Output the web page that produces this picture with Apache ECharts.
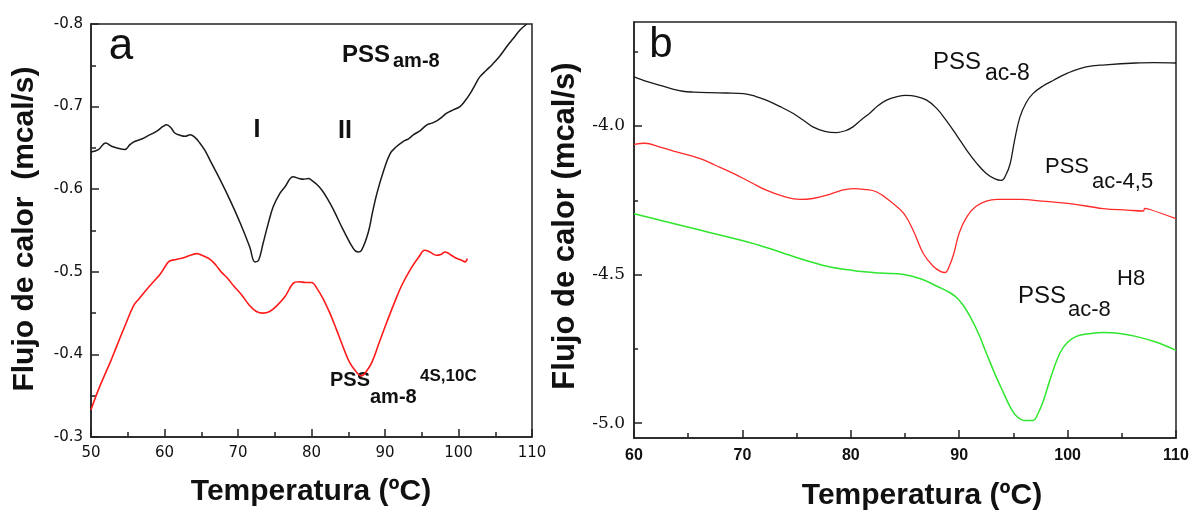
<!DOCTYPE html>
<html>
<head>
<meta charset="utf-8">
<script src="https://cdn.jsdelivr.net/npm/echarts@6/dist/echarts.min.js"></script>
<style>
html,body{margin:0;padding:0;background:#fff;}
#chart{width:1193px;height:512px;}
</style>
</head>
<body>
<div id="chart"></div>
<script>
// ---------- Panel a : PSS_am-8 ----------
const aBlackT = [50,51,52,52.8,53.5,54.6,55.3,56,57,57.6,58.9,59.8,60.3,60.9,61.4,62.2,62.8,63.5,64.1,64.8,65.5,66.2,67.6,68.9,70.3,71.6,72.3,72.8,73.4,74.1,74.8,75.7,76.4,77.5,78.3,78.9,79.6,80.0,80.7,81.4,82.2,83.0,84.3,85.7,86.3,86.8,87.7,88.3,88.9,89.8,90.7,91.5,92.5,93.2,93.9,94.8,95.7,96.4,97.1,97.7,98.4,99.3,100.2,100.9,101.6,102.3,102.9,103.8,104.7,105.6,106.6,107.5,108.4,109.3];
const aBlackV = [-0.645,-0.648,-0.656,-0.652,-0.650,-0.648,-0.654,-0.658,-0.661,-0.664,-0.670,-0.676,-0.678,-0.674,-0.668,-0.665,-0.664,-0.666,-0.663,-0.656,-0.647,-0.635,-0.611,-0.587,-0.559,-0.530,-0.512,-0.514,-0.534,-0.558,-0.579,-0.595,-0.603,-0.615,-0.613,-0.612,-0.613,-0.611,-0.606,-0.599,-0.588,-0.575,-0.551,-0.528,-0.524,-0.526,-0.547,-0.572,-0.595,-0.622,-0.643,-0.651,-0.658,-0.661,-0.666,-0.671,-0.678,-0.680,-0.683,-0.687,-0.692,-0.696,-0.700,-0.707,-0.716,-0.727,-0.736,-0.744,-0.752,-0.761,-0.773,-0.783,-0.793,-0.800];
const aRedT = [50,51,52,52.6,53.5,54.6,55.8,56.6,57.6,58.5,59.4,60.2,60.7,61.6,62.6,63.5,64.4,65.3,66.2,67.0,67.8,68.6,69.4,70.5,71.6,72.5,73.4,74.3,75.3,76.4,77.5,78.3,79.2,80.0,80.8,81.6,82.5,83.4,84.3,85.2,86.0,86.8,87.5,88.2,89.2,90.2,91.3,92.3,93.6,94.6,95.4,96.1,97.0,97.6,98.2,99.0,99.8,100.4,100.9,101.2];
const aRedV = [-0.333,-0.357,-0.378,-0.390,-0.410,-0.434,-0.459,-0.468,-0.479,-0.488,-0.497,-0.508,-0.513,-0.515,-0.517,-0.520,-0.522,-0.519,-0.515,-0.508,-0.499,-0.492,-0.483,-0.472,-0.459,-0.452,-0.450,-0.452,-0.459,-0.470,-0.486,-0.488,-0.487,-0.487,-0.479,-0.467,-0.450,-0.430,-0.409,-0.390,-0.380,-0.374,-0.380,-0.390,-0.414,-0.438,-0.463,-0.484,-0.505,-0.518,-0.526,-0.524,-0.520,-0.521,-0.524,-0.520,-0.516,-0.514,-0.512,-0.516];

// ---------- Panel b : PSS_ac ----------
const bBlackT = [60,61,62.4,63.5,64.5,65.5,67,68.5,70.1,71.2,72.2,73.5,74.7,75.6,76.5,77.6,78.7,79.5,80.2,81.0,81.8,82.5,83.3,84.2,85.1,86.0,87.0,87.9,88.8,89.8,90.7,91.6,92.5,93.3,93.9,94.3,94.7,95.1,95.6,96.2,96.8,97.7,98.7,100,101.7,103.5,106.3,108,110];
const bBlackV = [-3.835,-3.848,-3.863,-3.875,-3.883,-3.886,-3.888,-3.889,-3.891,-3.900,-3.913,-3.935,-3.958,-3.980,-4.003,-4.018,-4.022,-4.016,-4.003,-3.978,-3.955,-3.932,-3.913,-3.902,-3.897,-3.900,-3.913,-3.940,-3.981,-4.033,-4.082,-4.125,-4.160,-4.178,-4.183,-4.165,-4.127,-4.050,-3.970,-3.920,-3.891,-3.866,-3.846,-3.822,-3.801,-3.794,-3.788,-3.787,-3.788];
const bRedT = [60,61,62.4,64,66.1,67.5,69.2,70.8,72.2,73.8,75.3,76.5,77.8,79,80.2,81.2,82.4,83.7,84.9,85.8,86.7,87.6,88.3,88.7,89.1,89.5,90.0,90.7,91.5,92.5,93.5,95.6,98,100.2,103.3,105.5,107.0,107.1,107.6,110];
const bRedV = [-4.062,-4.058,-4.071,-4.088,-4.110,-4.132,-4.160,-4.190,-4.216,-4.237,-4.247,-4.244,-4.233,-4.218,-4.211,-4.213,-4.222,-4.255,-4.295,-4.355,-4.430,-4.472,-4.490,-4.493,-4.470,-4.430,-4.360,-4.306,-4.272,-4.253,-4.247,-4.247,-4.254,-4.261,-4.278,-4.283,-4.286,-4.277,-4.281,-4.312];
const bGreenT = [60,62.5,65.5,68.5,71.6,74.7,77.8,80.2,82.7,84.9,86.5,88.0,89.2,89.8,90.4,91.0,91.8,92.5,93.3,94.1,94.7,95.3,96.0,96.8,97.3,97.8,98.5,99.3,100.0,100.8,102,103.3,104.8,106.3,108.2,110];
const bGreenV = [-4.295,-4.318,-4.345,-4.372,-4.402,-4.439,-4.472,-4.486,-4.495,-4.500,-4.515,-4.540,-4.562,-4.579,-4.605,-4.641,-4.700,-4.764,-4.835,-4.899,-4.945,-4.977,-4.991,-4.991,-4.965,-4.921,-4.840,-4.764,-4.728,-4.708,-4.699,-4.695,-4.698,-4.708,-4.728,-4.755];

// tick values
const aXMin = 50, aXMax = 110, aXStep = 10;
const aYMin = -0.8, aYMax = -0.3, aYStep = 0.1;
const bXMin = 60, bXMax = 110, bXStep = 10;
const bYMin = -5.05, bYMax = -3.65;
const bYMajor = [-5.0, -4.5, -4.0];
const bYMinor = [-4.75, -4.25, -3.75];

const axisTitleX = 'Temperatura (ºC)';
const axisTitleYa = 'Flujo de calor  (mcal/s)';
const axisTitleYb = 'Flujo de calor (mcal/s)';

function pairs(t, v){ return t.map((x,i)=>[x, v[i]]); }

const chart = echarts.init(document.getElementById('chart'), null, {renderer:'canvas'});
const AX = '#222';
const sans = '"Liberation Sans", Arial, sans-serif';

function xAxisCfg(grid, min, max, step, labelStyle){
  return {
    gridIndex: grid, type:'value', min, max, interval: step,
    axisLine:{show:true, onZero:false, lineStyle:{color:AX, width:1.5}},
    axisTick:{show:true, inside:true, length:8, lineStyle:{color:AX, width:1.5}},
    minorTick:{show:true, splitNumber:2, length:5, lineStyle:{color:AX, width:1.5}},
    splitLine:{show:false},
    axisLabel: Object.assign({color:'#111', margin:9}, labelStyle)
  };
}

const option = {
  animation:false,
  backgroundColor:'#fff',
  grid:[
    {left:91, top:24, width:441, height:413, show:true, borderColor:AX, borderWidth:1.5, backgroundColor:'transparent'},
    {left:634, top:22, width:542, height:416, show:true, borderColor:AX, borderWidth:1.5, backgroundColor:'transparent'}
  ],
  xAxis:[
    xAxisCfg(0, aXMin, aXMax, aXStep, {fontFamily:'"DejaVu Sans", sans-serif', fontSize:15}),
    xAxisCfg(1, bXMin, bXMax, bXStep, {fontFamily:sans, fontSize:16, fontWeight:'bold', margin:10})
  ],
  yAxis:[
    {
      gridIndex:0, type:'value', inverse:true, min:aYMin, max:aYMax, interval:aYStep,
      axisLine:{show:true, onZero:false, lineStyle:{color:AX, width:1.5}},
      axisTick:{show:true, inside:true, length:8, lineStyle:{color:AX, width:1.5}},
      minorTick:{show:true, splitNumber:2, length:5, lineStyle:{color:AX, width:1.5}},
      splitLine:{show:false},
      axisLabel:{color:'#111', margin:8, fontFamily:'"DejaVu Sans", sans-serif', fontSize:15, formatter:v=>v.toFixed(1)}
    },
    {
      gridIndex:1, type:'value', position:'left', min:bYMin, max:bYMax,
      axisLine:{show:true, onZero:false, lineStyle:{color:AX, width:1.5}},
      axisTick:{show:true, inside:true, length:8, customValues:bYMajor, lineStyle:{color:AX, width:1.5}},
      splitLine:{show:false},
      axisLabel:{color:'#111', margin:9, fontFamily:'"DejaVu Serif", serif', fontSize:17, customValues:bYMajor, formatter:v=>v.toFixed(1)}
    },
    {
      gridIndex:1, type:'value', position:'left', offset:0, min:bYMin, max:bYMax,
      axisLine:{show:false},
      axisTick:{show:true, inside:true, length:4, customValues:bYMinor, lineStyle:{color:AX, width:1.5}},
      splitLine:{show:false},
      axisLabel:{show:false}
    }
  ],
  series:[
    {type:'line', xAxisIndex:0, yAxisIndex:0, data:pairs(aBlackT,aBlackV), showSymbol:false, smooth:0.4, lineStyle:{color:'#1a1a1a', width:1.5}},
    {type:'line', xAxisIndex:0, yAxisIndex:0, data:pairs(aRedT,aRedV), showSymbol:false, smooth:0.4, lineStyle:{color:'#ff1a1a', width:1.6}},
    {type:'line', xAxisIndex:1, yAxisIndex:1, data:pairs(bBlackT,bBlackV), showSymbol:false, smooth:0.4, lineStyle:{color:'#1a1a1a', width:1.3}},
    {type:'line', xAxisIndex:1, yAxisIndex:1, data:pairs(bRedT,bRedV), showSymbol:false, smooth:0.4, lineStyle:{color:'#ff2a2a', width:1.3}},
    {type:'line', xAxisIndex:1, yAxisIndex:1, data:pairs(bGreenT,bGreenV), showSymbol:false, smooth:0.4, lineStyle:{color:'#2ee62e', width:1.5}}
  ],
  graphic:[
    // axis titles
    {type:'text', x:311, y:492, style:{text:axisTitleX, font:'bold 30px '+sans, fill:'#111', textAlign:'center', textVerticalAlign:'middle'}},
    {type:'text', x:922, y:496, style:{text:axisTitleX, font:'bold 30px '+sans, fill:'#111', textAlign:'center', textVerticalAlign:'middle'}},
    {type:'text', x:25, y:229, rotation:Math.PI/2, style:{text:axisTitleYa, font:'bold 30px '+sans, fill:'#111', textAlign:'center', textVerticalAlign:'middle'}},
    {type:'text', x:565, y:226, rotation:Math.PI/2, style:{text:axisTitleYb, font:'bold 31px '+sans, fill:'#111', textAlign:'center', textVerticalAlign:'middle'}},
    // panel letters
    {type:'text', x:121, y:47, style:{text:'a', font:'44px '+sans, fill:'#111', textAlign:'center', textVerticalAlign:'middle'}},
    {type:'text', x:661, y:45, style:{text:'b', font:'42px '+sans, fill:'#111', textAlign:'center', textVerticalAlign:'middle'}},
    // peak labels
    {type:'text', x:257, y:130, style:{text:'I', font:'bold 25px '+sans, fill:'#111', textAlign:'center', textVerticalAlign:'middle'}},
    {type:'text', x:345, y:131, style:{text:'II', font:'bold 25px '+sans, fill:'#111', textAlign:'center', textVerticalAlign:'middle'}},
    // PSS am-8 (top)
    {type:'text', x:342, y:55, style:{text:'PSS', font:'bold 24px '+sans, fill:'#111', textAlign:'left', textVerticalAlign:'middle'}},
    {type:'text', x:393, y:61, style:{text:'am-8', font:'bold 20px '+sans, fill:'#111', textAlign:'left', textVerticalAlign:'middle'}},
    // PSS am-8 4S,10C
    {type:'text', x:330, y:380, style:{text:'PSS', font:'bold 20px '+sans, fill:'#111', textAlign:'left', textVerticalAlign:'middle'}},
    {type:'text', x:370, y:397, style:{text:'am-8', font:'bold 20px '+sans, fill:'#111', textAlign:'left', textVerticalAlign:'middle'}},
    {type:'text', x:420, y:376, style:{text:'4S,10C', font:'bold 17px '+sans, fill:'#111', textAlign:'left', textVerticalAlign:'middle'}},
    // PSS ac-8
    {type:'text', x:933, y:62, style:{text:'PSS', font:'24px '+sans, fill:'#111', textAlign:'left', textVerticalAlign:'middle'}},
    {type:'text', x:985, y:74, style:{text:'ac-8', font:'23px '+sans, fill:'#111', textAlign:'left', textVerticalAlign:'middle'}},
    // PSS ac-4,5
    {type:'text', x:1045, y:167, style:{text:'PSS', font:'22px '+sans, fill:'#111', textAlign:'left', textVerticalAlign:'middle'}},
    {type:'text', x:1092, y:182, style:{text:'ac-4,5', font:'22px '+sans, fill:'#111', textAlign:'left', textVerticalAlign:'middle'}},
    // PSS ac-8 H8
    {type:'text', x:1018, y:296, style:{text:'PSS', font:'24px '+sans, fill:'#111', textAlign:'left', textVerticalAlign:'middle'}},
    {type:'text', x:1068, y:310, style:{text:'ac-8', font:'22px '+sans, fill:'#111', textAlign:'left', textVerticalAlign:'middle'}},
    {type:'text', x:1117, y:279, style:{text:'H8', font:'22px '+sans, fill:'#111', textAlign:'left', textVerticalAlign:'middle'}}
  ]
};
chart.setOption(option);
</script>
</body>
</html>
